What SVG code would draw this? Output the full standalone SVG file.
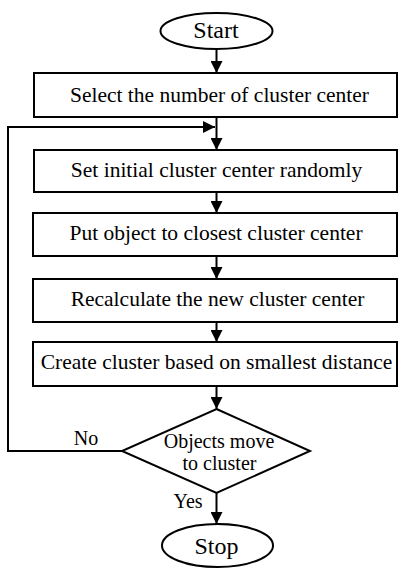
<svg xmlns="http://www.w3.org/2000/svg" width="398" height="574" viewBox="0 0 398 574">
<style>
.s{fill:#fff;stroke:#000;stroke-width:2}
.t{font-family:"Liberation Serif","Times New Roman",serif;font-size:21.5px;fill:#000;text-anchor:middle}
.d{font-size:20px}
.b{font-size:24px}
.c{fill:none;stroke:#000;stroke-width:2}
</style>
<defs>
<marker id="a" markerWidth="12" markerHeight="12" refX="12" refY="6" orient="auto" markerUnits="userSpaceOnUse" viewBox="0 0 12 12">
<path d="M0,0 L12,6 L0,12 Z" fill="#000"/>
</marker>
</defs>
<g id="connectors">
<line class="c" x1="216.5" y1="49" x2="216.5" y2="73" marker-end="url(#a)"/>
<line class="c" x1="216.5" y1="117" x2="216.5" y2="150" marker-end="url(#a)"/>
<line class="c" x1="216.5" y1="192" x2="216.5" y2="213" marker-end="url(#a)"/>
<line class="c" x1="216.5" y1="256" x2="216.5" y2="279" marker-end="url(#a)"/>
<line class="c" x1="216.5" y1="322" x2="216.5" y2="342" marker-end="url(#a)"/>
<line class="c" x1="216.5" y1="386" x2="216.5" y2="409" marker-end="url(#a)"/>
<line class="c" x1="216.5" y1="493" x2="216.5" y2="524" marker-end="url(#a)"/>
<polyline class="c" points="122,451 8,451 8,127 215,127" marker-end="url(#a)"/>
<text class="t d" x="86" y="445">No</text>
<text class="t d" x="188" y="508">Yes</text>
</g>
<g id="start"><ellipse class="s" cx="216.5" cy="31" rx="56" ry="18"/><text class="t b" x="216" y="38">Start</text></g>
<g id="select"><rect class="s" x="34" y="73" width="363" height="44"/><text class="t" x="219.5" y="102">Select the number of cluster center</text></g>
<g id="init"><rect class="s" x="34" y="150" width="363" height="42"/><text class="t" x="216.5" y="177">Set initial cluster center randomly</text></g>
<g id="put"><rect class="s" x="33" y="213" width="364" height="43"/><text class="t" x="216" y="240">Put object to closest cluster center</text></g>
<g id="recalc"><rect class="s" x="33" y="279" width="364" height="43"/><text class="t" x="217.5" y="306">Recalculate the new cluster center</text></g>
<g id="create"><rect class="s" x="33" y="342" width="364" height="44"/><text class="t" x="216.5" y="369">Create cluster based on smallest distance</text></g>
<g id="decision"><polygon class="s" points="216.5,409 310,451 216.5,493 122,451"/><text class="t d" x="219" y="448">Objects move</text><text class="t d" x="219.5" y="470">to cluster</text></g>
<g id="stop"><ellipse class="s" cx="217.5" cy="545.5" rx="55.5" ry="21.5"/><text class="t b" x="216.5" y="554">Stop</text></g>
</svg>
